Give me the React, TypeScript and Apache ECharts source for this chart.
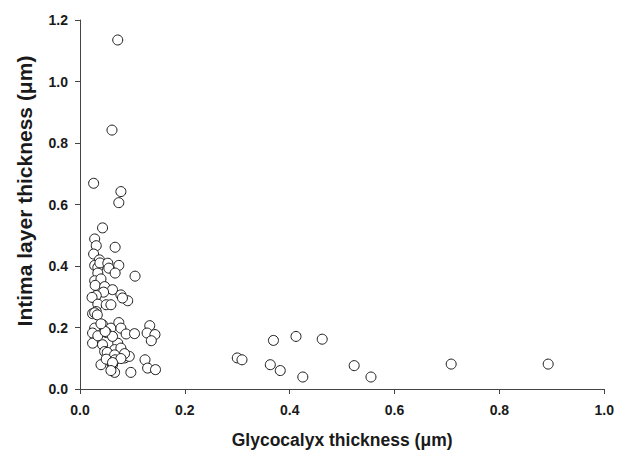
import React, { useEffect, useRef } from "react";
import * as echarts from "echarts";

// Glycocalyx thickness (µm)
const glycocalyx: number[] = [
  0.072, 0.061, 0.026, 0.078, 0.074, 0.043, 0.028, 0.031, 0.067, 0.026, 0.037,
  0.028, 0.034, 0.038, 0.053, 0.055, 0.074, 0.067, 0.034, 0.105,
  0.028, 0.040, 0.029, 0.047, 0.062, 0.045, 0.078, 0.031, 0.091, 0.081, 0.023,
  0.034, 0.050, 0.059, 0.031, 0.024, 0.028, 0.033,
  0.028, 0.043, 0.059, 0.074, 0.078, 0.024, 0.050, 0.088, 0.104, 0.133, 0.128,
  0.143, 0.136, 0.024, 0.043, 0.072, 0.047, 0.066, 0.078, 0.053, 0.069, 0.085,
  0.094, 0.040, 0.062, 0.124, 0.129, 0.144, 0.066, 0.097,
  0.034, 0.062, 0.052, 0.085, 0.066, 0.050, 0.067, 0.078, 0.062, 0.059, 0.048, 0.040,
  0.300, 0.309, 0.369, 0.363, 0.382, 0.412, 0.462, 0.425, 0.523, 0.555, 0.708, 0.893,
];

// Intima layer thickness (µm)
const intima: number[] = [
  1.135, 0.842, 0.669, 0.642, 0.606, 0.524, 0.488, 0.466, 0.461, 0.439, 0.420,
  0.402, 0.395, 0.410, 0.409, 0.393, 0.402, 0.377, 0.377, 0.367,
  0.352, 0.358, 0.337, 0.333, 0.323, 0.315, 0.306, 0.304, 0.287, 0.296, 0.298,
  0.276, 0.274, 0.274, 0.252, 0.245, 0.248, 0.241,
  0.198, 0.209, 0.198, 0.216, 0.198, 0.182, 0.184, 0.179, 0.180, 0.206, 0.182,
  0.177, 0.157, 0.149, 0.144, 0.149, 0.122, 0.128, 0.133, 0.101, 0.101, 0.101,
  0.106, 0.079, 0.079, 0.095, 0.068, 0.063, 0.054, 0.054,
  0.173, 0.171, 0.119, 0.115, 0.111, 0.097, 0.095, 0.099, 0.086, 0.060, 0.187, 0.212,
  0.101, 0.095, 0.158, 0.079, 0.060, 0.171, 0.162, 0.039, 0.076, 0.039, 0.081, 0.081,
];

const xTicks = { min: 0, max: 1.0, interval: 0.2 };
const yTicks = { min: 0, max: 1.2, interval: 0.2 };

const xTitle = "Glycocalyx thickness (\u03bcm)";
const yTitle = "Intima layer thickness (\u03bcm)";

export default function App() {
  const ref = useRef<HTMLDivElement>(null);

  useEffect(() => {
    if (!ref.current) return;
    const chart = echarts.init(ref.current, undefined, { renderer: "svg" });
    const data = glycocalyx.map((x, i) => [x, intima[i]]);
    const font = "'Liberation Sans', Arial, Helvetica, sans-serif";
    const axisCommon = {
      axisLine: { show: true, lineStyle: { color: "#444", width: 1 } },
      axisTick: { show: true, inside: false, length: 5, lineStyle: { color: "#444", width: 1 } },
      splitLine: { show: false },
      nameLocation: "middle" as const,
    };
    chart.setOption({
      animation: false,
      backgroundColor: "#ffffff",
      grid: { left: 80, right: 10.5, top: 20, bottom: 64.7, containLabel: false },
      xAxis: {
        type: "value",
        ...axisCommon,
        min: xTicks.min,
        max: xTicks.max,
        interval: xTicks.interval,
        axisLabel: {
          margin: 14,
          color: "#1a1a1a",
          fontFamily: font,
          fontWeight: "bold",
          fontSize: 14,
          formatter: (v: number) => v.toFixed(1),
        },
        name: xTitle,
        nameGap: 42,
        nameTextStyle: { color: "#1a1a1a", fontFamily: font, fontWeight: "bold", fontSize: 17.5 },
      },
      yAxis: {
        type: "value",
        ...axisCommon,
        min: yTicks.min,
        max: yTicks.max,
        interval: yTicks.interval,
        axisLabel: {
          margin: 12,
          color: "#1a1a1a",
          fontFamily: font,
          fontWeight: "bold",
          fontSize: 14,
          formatter: (v: number) => v.toFixed(1),
        },
      },
      graphic: [
        {
          type: "text",
          x: 24,
          y: 191,
          rotation: Math.PI / 2,
          style: {
            text: yTitle,
            fill: "#1a1a1a",
            font: `bold 21px ${font}`,
            align: "center",
            verticalAlign: "middle",
          },
        },
      ],
      series: [
        {
          type: "scatter",
          data,
          symbol: "circle",
          symbolSize: 10,
          itemStyle: { color: "#ffffff", borderColor: "#1a1a1a", borderWidth: 1, opacity: 1 },
          emphasis: { disabled: true },
        },
      ],
    });
    return () => chart.dispose();
  }, []);

  return (
    <div
      ref={ref}
      style={{ position: "fixed", left: 0, top: 0, width: 617, height: 454, background: "#fff" }}
    />
  );
}
